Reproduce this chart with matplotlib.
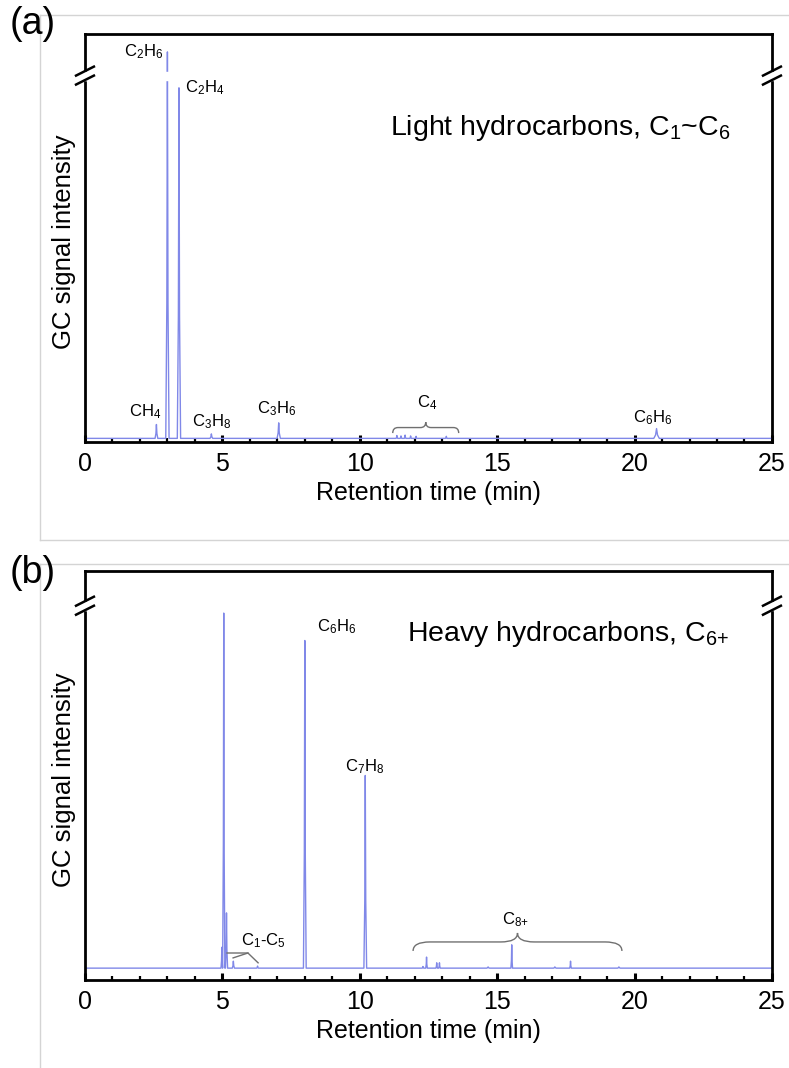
import matplotlib
matplotlib.use("Agg")
import matplotlib.pyplot as plt
from matplotlib.path import Path
from matplotlib.patches import PathPatch, Rectangle
from matplotlib.lines import Line2D

plt.rcParams['font.family'] = ['Liberation Sans', 'DejaVu Sans']
plt.rcParams['mathtext.default'] = 'regular'

# panel (a): light hydrocarbons, peak retention times (min) and heights
rt_a = [2.6, 3.0, 3.42, 4.6, 7.05, 11.35, 11.5, 11.65, 11.85, 12.05, 13.15, 20.8]
h_a = [4.3, 95.6, 86.8, 2.0, 4.7, 1.6, 1.5, 1.7, 1.5, 1.4, 1.4, 3.3]
w_a = [0.05, 0.06, 0.06, 0.05, 0.06, 0.03, 0.03, 0.03, 0.03, 0.03, 0.03, 0.1]
base_a = 0.9

# panel (b): heavy hydrocarbons
rt_b = [4.98, 5.05, 5.15, 5.4, 6.28, 8.0, 10.2, 12.3, 12.43, 12.8, 12.9,
        14.67, 15.53, 17.1, 17.67, 19.43]
h_b = [8.0, 89.7, 16.4, 4.6, 3.4, 83.0, 50.0, 3.3, 5.6, 4.2, 4.2,
       3.2, 8.6, 3.2, 4.6, 3.2]
w_b = [0.03, 0.04, 0.04, 0.04, 0.03, 0.05, 0.05, 0.03, 0.03, 0.03, 0.03,
       0.05, 0.03, 0.05, 0.03, 0.05]
base_b = 2.9

xticks = [0, 5, 10, 15, 20, 25]

trace_color = '#8088e8'
brace_color = '#707070'


def trace(rts, hs, ws, base):
    # polyline: baseline -> peak apex -> baseline for every peak
    t = [0.0]
    s = [base]
    for r, h, w in zip(rts, hs, ws):
        t += [r - w, r - w * 0.35, r, r + w * 0.35, r + w]
        s += [base, base + (h - base) * 0.35, h, base + (h - base) * 0.35, base]
    t.append(25.0)
    s.append(base)
    return t, s


def brace(ax, x0, x1, y0, y1):
    # curly brace opening downward, tip at the middle
    xm = (x0 + x1) / 2
    ym = (y0 + y1) / 2
    d = (x1 - x0) * 0.08
    verts = [(x0, y0), (x0, ym), (x0 + d, ym), (xm - d, ym),
             (xm, ym), (xm, y1),
             (xm, ym), (xm + d, ym), (xm + d, ym), (x1 - d, ym),
             (x1, ym), (x1, y0)]
    codes = [Path.MOVETO, Path.CURVE3, Path.CURVE3, Path.LINETO,
             Path.CURVE3, Path.CURVE3,
             Path.CURVE3, Path.CURVE3, Path.MOVETO, Path.LINETO,
             Path.CURVE3, Path.CURVE3]
    ax.add_patch(PathPatch(Path(verts, codes), fill=False, ec=brace_color, lw=1.0))


def style(ax, brk):
    ax.set_xlim(0, 25)
    ax.set_ylim(0, 100)
    ax.set_yticks([])
    ax.set_xticks(xticks)
    ax.set_xticks(range(0, 26), minor=True)
    ax.tick_params(axis='x', which='major', direction='in', length=5, width=2.2,
                   labelsize=18, pad=7)
    ax.tick_params(axis='x', which='minor', direction='in', length=3, width=1.6)
    for sp in ax.spines.values():
        sp.set_linewidth(2)
    ax.set_xlabel('Retention time (min)', fontsize=18)
    ax.xaxis.set_label_coords(0.5, -0.095)
    ax.set_ylabel('GC signal intensity', fontsize=18.5)
    ax.yaxis.set_label_coords(-0.013, 0.49)
    # break in the signal and spines
    ax.axhspan(brk - 1.0, brk + 1.0, color='white', zorder=3)
    for xa in (0, 1):
        ax.add_patch(Rectangle((xa - 0.01, (brk - 1.0) / 100), 0.02, 0.02,
                               transform=ax.transAxes, color='white',
                               clip_on=False, zorder=5))
        for dy in (-0.011, 0.011):
            ax.add_line(Line2D([xa - 0.013, xa + 0.013],
                               [brk / 100 + dy - 0.011, brk / 100 + dy + 0.011],
                               transform=ax.transAxes, color='black', lw=1.8,
                               clip_on=False, zorder=6))


fig = plt.figure(figsize=(7.89, 10.68), dpi=100)
ax1 = fig.add_axes([0.1077, 0.5861, 0.8707, 0.3821])
ax2 = fig.add_axes([0.1077, 0.0824, 0.8707, 0.3830])

# light grey frames around panels
g = '#d4d4d4'
fig.add_artist(Line2D([40 / 789, 1], [1 - 15 / 1068] * 2, color=g, lw=1))
fig.add_artist(Line2D([40 / 789] * 2, [1 - 15 / 1068, 1 - 540 / 1068], color=g, lw=1))
fig.add_artist(Line2D([40 / 789, 1], [1 - 540 / 1068] * 2, color=g, lw=1))
fig.add_artist(Line2D([40 / 789, 1], [1 - 564 / 1068] * 2, color=g, lw=1))
fig.add_artist(Line2D([40 / 789] * 2, [1 - 564 / 1068, 0], color=g, lw=1))

# (a)
t, s = trace(rt_a, h_a, w_a, base_a)
ax1.plot(t, s, color=trace_color, lw=1.0)
style(ax1, 89.8)
fs = 12
ax1.text(2.84, 95.6, 'C$_2$H$_6$', ha='right', va='center', fontsize=fs)
ax1.text(3.64, 86.8, 'C$_2$H$_4$', ha='left', va='center', fontsize=fs)
ax1.text(2.18, 7.4, 'CH$_4$', ha='center', va='center', fontsize=fs)
ax1.text(4.62, 4.9, 'C$_3$H$_8$', ha='center', va='center', fontsize=fs)
ax1.text(6.99, 8.3, 'C$_3$H$_6$', ha='center', va='center', fontsize=fs)
ax1.text(12.45, 9.6, 'C$_4$', ha='center', va='center', fontsize=fs)
ax1.text(20.67, 5.9, 'C$_6$H$_6$', ha='center', va='center', fontsize=fs)
brace(ax1, 11.2, 13.6, 2.2, 4.9)
ax1.text(11.1, 77, 'Light hydrocarbons, C$_1$~C$_6$', ha='left', va='center',
         fontsize=20.5)
fig.text(10 / 789, 1 - 24 / 1068, '(a)', fontsize=27, ha='left', va='center')

# (b)
t, s = trace(rt_b, h_b, w_b, base_b)
ax2.plot(t, s, color=trace_color, lw=1.0)
style(ax2, 91.5)
ax2.text(9.17, 86.3, 'C$_6$H$_6$', ha='center', va='center', fontsize=fs)
ax2.text(10.19, 52.1, 'C$_7$H$_8$', ha='center', va='center', fontsize=fs)
ax2.text(6.48, 9.6, 'C$_1$-C$_5$', ha='center', va='center', fontsize=fs)
ax2.text(15.68, 14.8, 'C$_{8{+}}$', ha='center', va='center', fontsize=fs)
brace(ax2, 11.94, 19.54, 7.1, 11.5)
ax2.plot([5.17, 5.93, 6.3], [6.6, 6.6, 4.2], color=brace_color, lw=1.0)
ax2.plot([5.39, 5.93], [5.4, 6.6], color=brace_color, lw=1.0)
ax2.text(11.72, 84.6, 'Heavy hydrocarbons, C$_{6{+}}$', ha='left', va='center',
         fontsize=20.5)
fig.text(10 / 789, 1 - 573 / 1068, '(b)', fontsize=27, ha='left', va='center')

fig.savefig('out.png', dpi=100)
